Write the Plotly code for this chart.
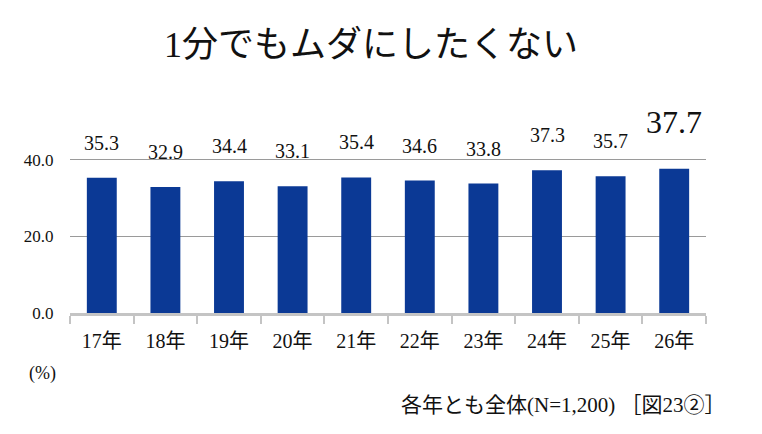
import plotly.graph_objects as go

categories = ["17年", "18年", "19年", "20年", "21年", "22年", "23年", "24年", "25年", "26年"]
values = [35.3, 32.9, 34.4, 33.1, 35.4, 34.6, 33.8, 37.3, 35.7, 37.7]
value_labels = ["35.3", "32.9", "34.4", "33.1", "35.4", "34.6", "33.8", "37.3", "35.7", "37.7"]
y_ticks = [0, 20, 40]
y_tick_labels = ["0.0", "20.0", "40.0"]

SERIF = "Liberation Serif, Noto Sans CJK JP, serif"

W, H = 762, 434
L, R, T, B = 70, 56, 156, 121
PW, PH = W - L - R, H - T - B


def px(x):
    return (x - L) / PW


def py(y):
    return (H - B - y) / PH


fig = go.Figure()
fig.add_trace(go.Bar(
    x=categories, y=values, width=0.47,
    marker=dict(color="#0b3995", line=dict(width=0)),
    hoverinfo="skip",
))

for i, (c, v, t) in enumerate(zip(categories, values, value_labels)):
    last = i == len(categories) - 1
    fig.add_annotation(
        x=c, y=v, text=t, showarrow=False, xref="x", yref="y",
        yanchor="bottom", yshift=22 if not last else 27,
        font=dict(family=SERIF, size=20 if not last else 32, color="#111111"),
    )

fig.add_annotation(text="1分でもムダにしたくない", x=px(371), y=py(45), xref="paper", yref="paper",
                   xanchor="center", yanchor="middle",
                   showarrow=False, font=dict(family=SERIF, size=36, color="#111111"))
fig.add_annotation(text="(%)", x=px(42), y=py(373), xref="paper", yref="paper", showarrow=False,
                   xanchor="center", yanchor="middle",
                   font=dict(family=SERIF, size=18, color="#111111"))
fig.add_annotation(text="各年とも全体(N=1,200) ［図23②］", x=px(728), y=py(405), xref="paper", yref="paper",
                   xanchor="right", yanchor="middle", showarrow=False,
                   font=dict(family=SERIF, size=21, color="#111111"))

fig.update_layout(
    width=W, height=H,
    margin=dict(l=L, r=R, t=T, b=B),
    paper_bgcolor="white", plot_bgcolor="white",
    showlegend=False,
    font=dict(family=SERIF, color="#222222"),
    xaxis=dict(
        showline=True, linecolor="#c4c4c4", linewidth=3,
        ticks="outside", tickson="boundaries", ticklen=8, tickwidth=2, tickcolor="#c4c4c4",
        tickfont=dict(family=SERIF, size=20, color="#111111"),
        ticklabelstandoff=8,
        showgrid=False, zeroline=False,
    ),
    yaxis=dict(
        range=[0, 41], tickvals=y_ticks, ticktext=y_tick_labels,
        showgrid=True, gridcolor="#9a9a9a", gridwidth=1,
        zeroline=False, showline=False,
        tickfont=dict(family=SERIF, size=17, color="#111111"),
        ticks="outside", ticklen=12, tickcolor="rgba(0,0,0,0)",
    ),
)

fig.write_html("out.html")
